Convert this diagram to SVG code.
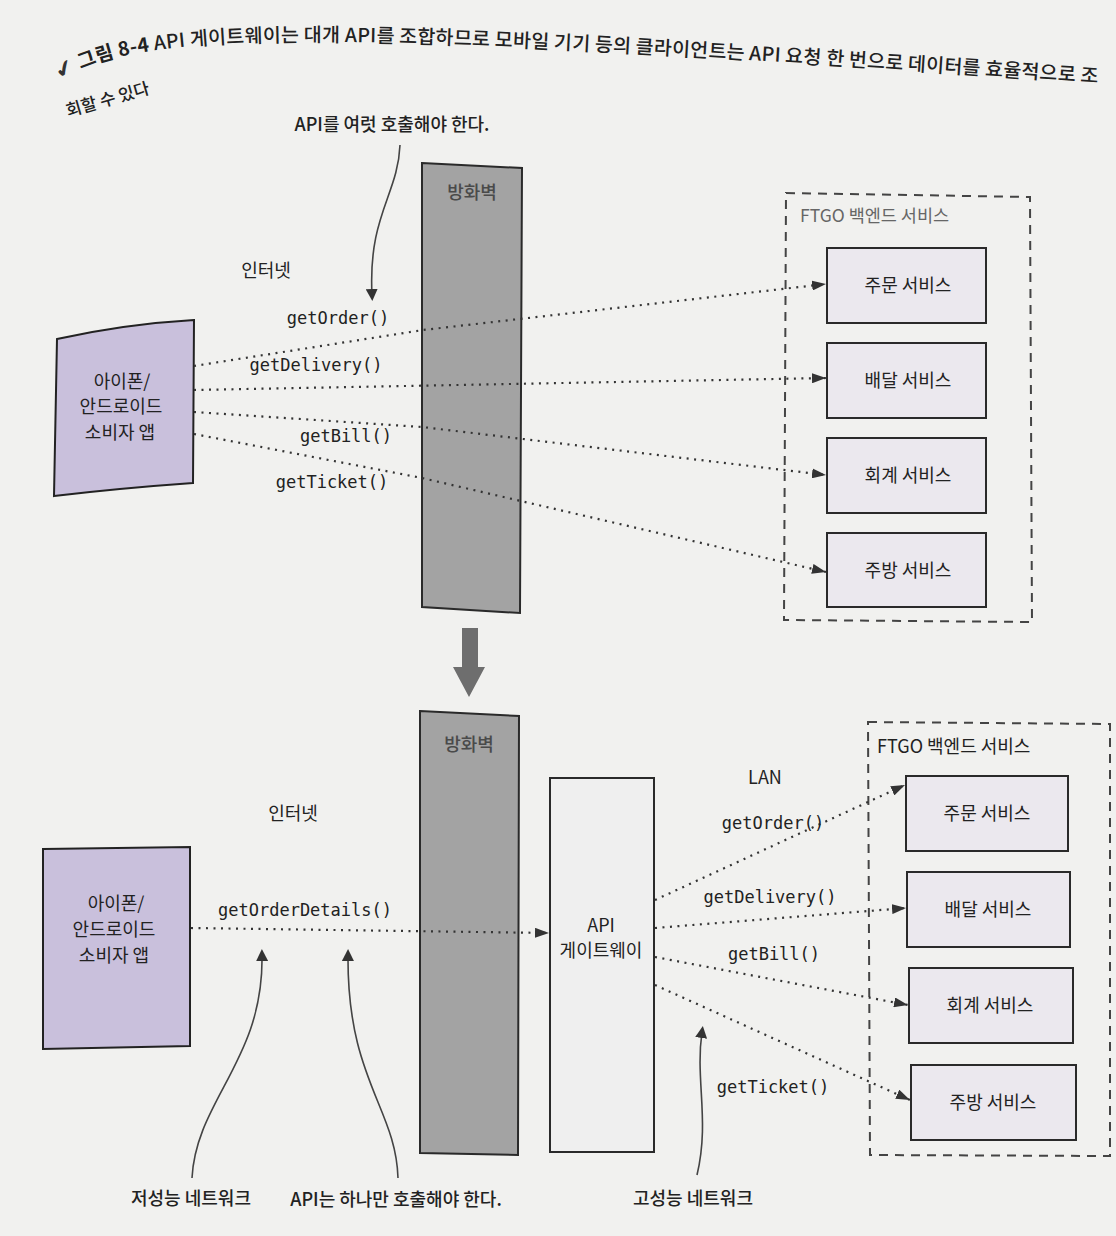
<svg xmlns="http://www.w3.org/2000/svg" width="1116" height="1236" viewBox="0 0 1116 1236">
<defs>
<style>
.kr{font-family:"Noto Sans CJK KR","Noto Sans",sans-serif;fill:#222}
.lbl{font-size:18px}
.code{font-family:"DejaVu Sans Mono","Liberation Mono",monospace;font-size:17px;fill:#222}
.fw{fill:#a3a3a3;stroke:#2a2a2a;stroke-width:2}
.fwt{font-family:"Noto Sans CJK KR",sans-serif;font-size:18px;font-weight:500;fill:#4a4a4a;text-anchor:middle}
.phone{fill:#c9c0dc;stroke:#222;stroke-width:2}
.svc{fill:#ebe8ee;stroke:#2a2a2a;stroke-width:2}
.grp{fill:none;stroke:#444;stroke-width:2;stroke-dasharray:9 7}
.dot{fill:none;stroke:#333;stroke-width:2.2;stroke-dasharray:2 5.5}
.call{fill:none;stroke:#444;stroke-width:1.6}
.c{text-anchor:middle}
</style>
<marker id="ah" viewBox="0 0 14 10" refX="14" refY="5" markerWidth="14" markerHeight="10" orient="auto" markerUnits="userSpaceOnUse"><path d="M0,0 L14,5 L0,10 z" fill="#333"/></marker>
<marker id="ah2" viewBox="0 0 12 12" refX="6" refY="6" markerWidth="12" markerHeight="12" orient="auto" markerUnits="userSpaceOnUse"><path d="M0,0 L12,6 L0,12 z" fill="#333"/></marker>
<path id="capPath" d="M 60 80 C 150 22, 400 35, 1140 86"/>
</defs>
<rect x="0" y="0" width="1116" height="1236" fill="#f1f1ef"/>

<g id="caption">
<text class="kr" font-size="19.5" font-weight="500"><textPath href="#capPath" textLength="1045" lengthAdjust="spacing"><tspan font-family="DejaVu Sans" font-size="22" fill="#333">✔</tspan> <tspan font-weight="bold">그림 8-4</tspan> API 게이트웨이는 대개 API를 조합하므로 모바일 기기 등의 클라이언트는 API 요청 한 번으로 데이터를 효율적으로 조</textPath></text>
<text class="kr" font-size="17" font-weight="500" transform="translate(68,117) rotate(-16)">회할 수 있다</text>
</g>

<!-- TOP SECTION -->
<g id="note-top"><text class="kr lbl" x="392" y="131" text-anchor="middle" font-weight="500">API를 여럿 호출해야 한다.</text></g>
<g id="firewall-top">
<polygon class="fw" points="422,163 522,168 520,613 422,607"/>
<text class="fwt" x="472" y="199">방화벽</text>
</g>
<g id="internet-top"><text class="kr lbl c" x="266" y="277">인터넷</text></g>
<g id="phone-top">
<path class="phone" d="M 57 339 Q 125 324 194 320 L 193 483 Q 122 488 54 496 Z"/>
<text class="kr lbl c" x="122" y="388">아이폰/</text>
<text class="kr lbl c" x="121" y="413">안드로이드</text>
<text class="kr lbl c" x="120" y="439">소비자 앱</text>
</g>
<g id="backend-top">
<polygon class="grp" points="786,193 1030,197 1032,622 784,620"/>
<text class="kr" x="800" y="222" font-size="17.5" style="fill:#666">FTGO 백엔드 서비스</text>
</g>
<g id="svc-order-top"><rect class="svc" x="827" y="248" width="159" height="75"/><text class="kr lbl c" x="908" y="292">주문 서비스</text></g>
<g id="svc-delivery-top"><rect class="svc" x="827" y="343" width="159" height="75"/><text class="kr lbl c" x="908" y="387">배달 서비스</text></g>
<g id="svc-account-top"><rect class="svc" x="827" y="438" width="159" height="75"/><text class="kr lbl c" x="908" y="482">회계 서비스</text></g>
<g id="svc-kitchen-top"><rect class="svc" x="827" y="533" width="159" height="74"/><text class="kr lbl c" x="908" y="577">주방 서비스</text></g>

<g id="big-arrow"><polygon points="462,628 478,628 478,667 485,667 469,697 453,667 462,667" fill="#6e6e6e"/></g>

<!-- BOTTOM SECTION -->
<g id="firewall-bottom">
<polygon class="fw" points="420,711 519,716 518,1155 420,1153"/>
<text class="fwt" x="469" y="751">방화벽</text>
</g>
<g id="internet-bottom"><text class="kr lbl c" x="293" y="820">인터넷</text></g>
<g id="phone-bottom">
<path class="phone" d="M 43 849 L 190 847 L 190 1046 L 43 1049 Z"/>
<text class="kr lbl c" x="116" y="910">아이폰/</text>
<text class="kr lbl c" x="114" y="936">안드로이드</text>
<text class="kr lbl c" x="114" y="962">소비자 앱</text>
</g>
<g id="api-gateway">
<rect x="550" y="778" width="104" height="374" fill="#efefef" stroke="#2a2a2a" stroke-width="2"/>
<text class="kr lbl c" x="601" y="932">API</text>
<text class="kr lbl c" x="601" y="957">게이트웨이</text>
</g>
<g id="lan"><text class="kr lbl c" x="765" y="784">LAN</text></g>
<g id="backend-bottom">
<polygon class="grp" points="868,722 1110,724 1110,1156 870,1155"/>
<text class="kr" x="877" y="753" font-size="18">FTGO 백엔드 서비스</text>
</g>
<g id="svc-order-bottom"><rect class="svc" x="906" y="776" width="162" height="75"/><text class="kr lbl c" x="987" y="820">주문 서비스</text></g>
<g id="svc-delivery-bottom"><rect class="svc" x="907" y="872" width="163" height="75"/><text class="kr lbl c" x="988" y="916">배달 서비스</text></g>
<g id="svc-account-bottom"><rect class="svc" x="909" y="968" width="164" height="75"/><text class="kr lbl c" x="990" y="1012">회계 서비스</text></g>
<g id="svc-kitchen-bottom"><rect class="svc" x="911" y="1065" width="165" height="75"/><text class="kr lbl c" x="993" y="1109">주방 서비스</text></g>

<g id="note-low"><text class="kr lbl c" x="191" y="1205" font-weight="500">저성능 네트워크</text></g>
<g id="note-one"><text class="kr lbl c" x="396" y="1206" font-weight="500">API는 하나만 호출해야 한다.</text></g>
<g id="note-high"><text class="kr lbl c" x="693" y="1205" font-weight="500">고성능 네트워크</text></g>

<g id="connectors">
<!-- top -->
<path class="call" d="M 400 145 C 398 195, 368 215, 372 295" marker-end="url(#ah2)"/>
<path class="dot" d="M 194 366 L 423 330 L 826 284" marker-end="url(#ah)"/>
<path class="dot" d="M 194 390 L 826 378" marker-end="url(#ah)"/>
<path class="dot" d="M 194 412 L 422 427 L 826 475" marker-end="url(#ah)"/>
<path class="dot" d="M 194 434 L 422 478 L 826 572" marker-end="url(#ah)"/>
<!-- bottom -->
<path class="dot" d="M 191 928 L 549 933" marker-end="url(#ah)"/>
<path class="dot" d="M 655 900 L 905 785" marker-end="url(#ah)"/>
<path class="dot" d="M 655 928 L 906 908" marker-end="url(#ah)"/>
<path class="dot" d="M 655 957 L 908 1005" marker-end="url(#ah)"/>
<path class="dot" d="M 655 985 L 910 1100" marker-end="url(#ah)"/>
<path class="call" d="M 192 1178 C 196 1100, 264 1060, 262 955" marker-end="url(#ah2)"/>
<path class="call" d="M 398 1178 C 396 1108, 347 1080, 348 955" marker-end="url(#ah2)"/>
<path class="call" d="M 697 1175 C 710 1120, 695 1080, 702 1032" marker-end="url(#ah2)"/>
</g>

<g id="connector-labels">
<text class="code" x="338" y="324" text-anchor="middle">getOrder()</text>
<text class="code" x="316" y="371" text-anchor="middle">getDelivery()</text>
<text class="code" x="346" y="442" text-anchor="middle">getBill()</text>
<text class="code" x="332" y="488" text-anchor="middle">getTicket()</text>
<text class="code" x="305" y="916" text-anchor="middle">getOrderDetails()</text>
<text class="code" x="773" y="829" text-anchor="middle">getOrder()</text>
<text class="code" x="770" y="903" text-anchor="middle">getDelivery()</text>
<text class="code" x="774" y="960" text-anchor="middle">getBill()</text>
<text class="code" x="773" y="1093" text-anchor="middle">getTicket()</text>
</g>
</svg>
